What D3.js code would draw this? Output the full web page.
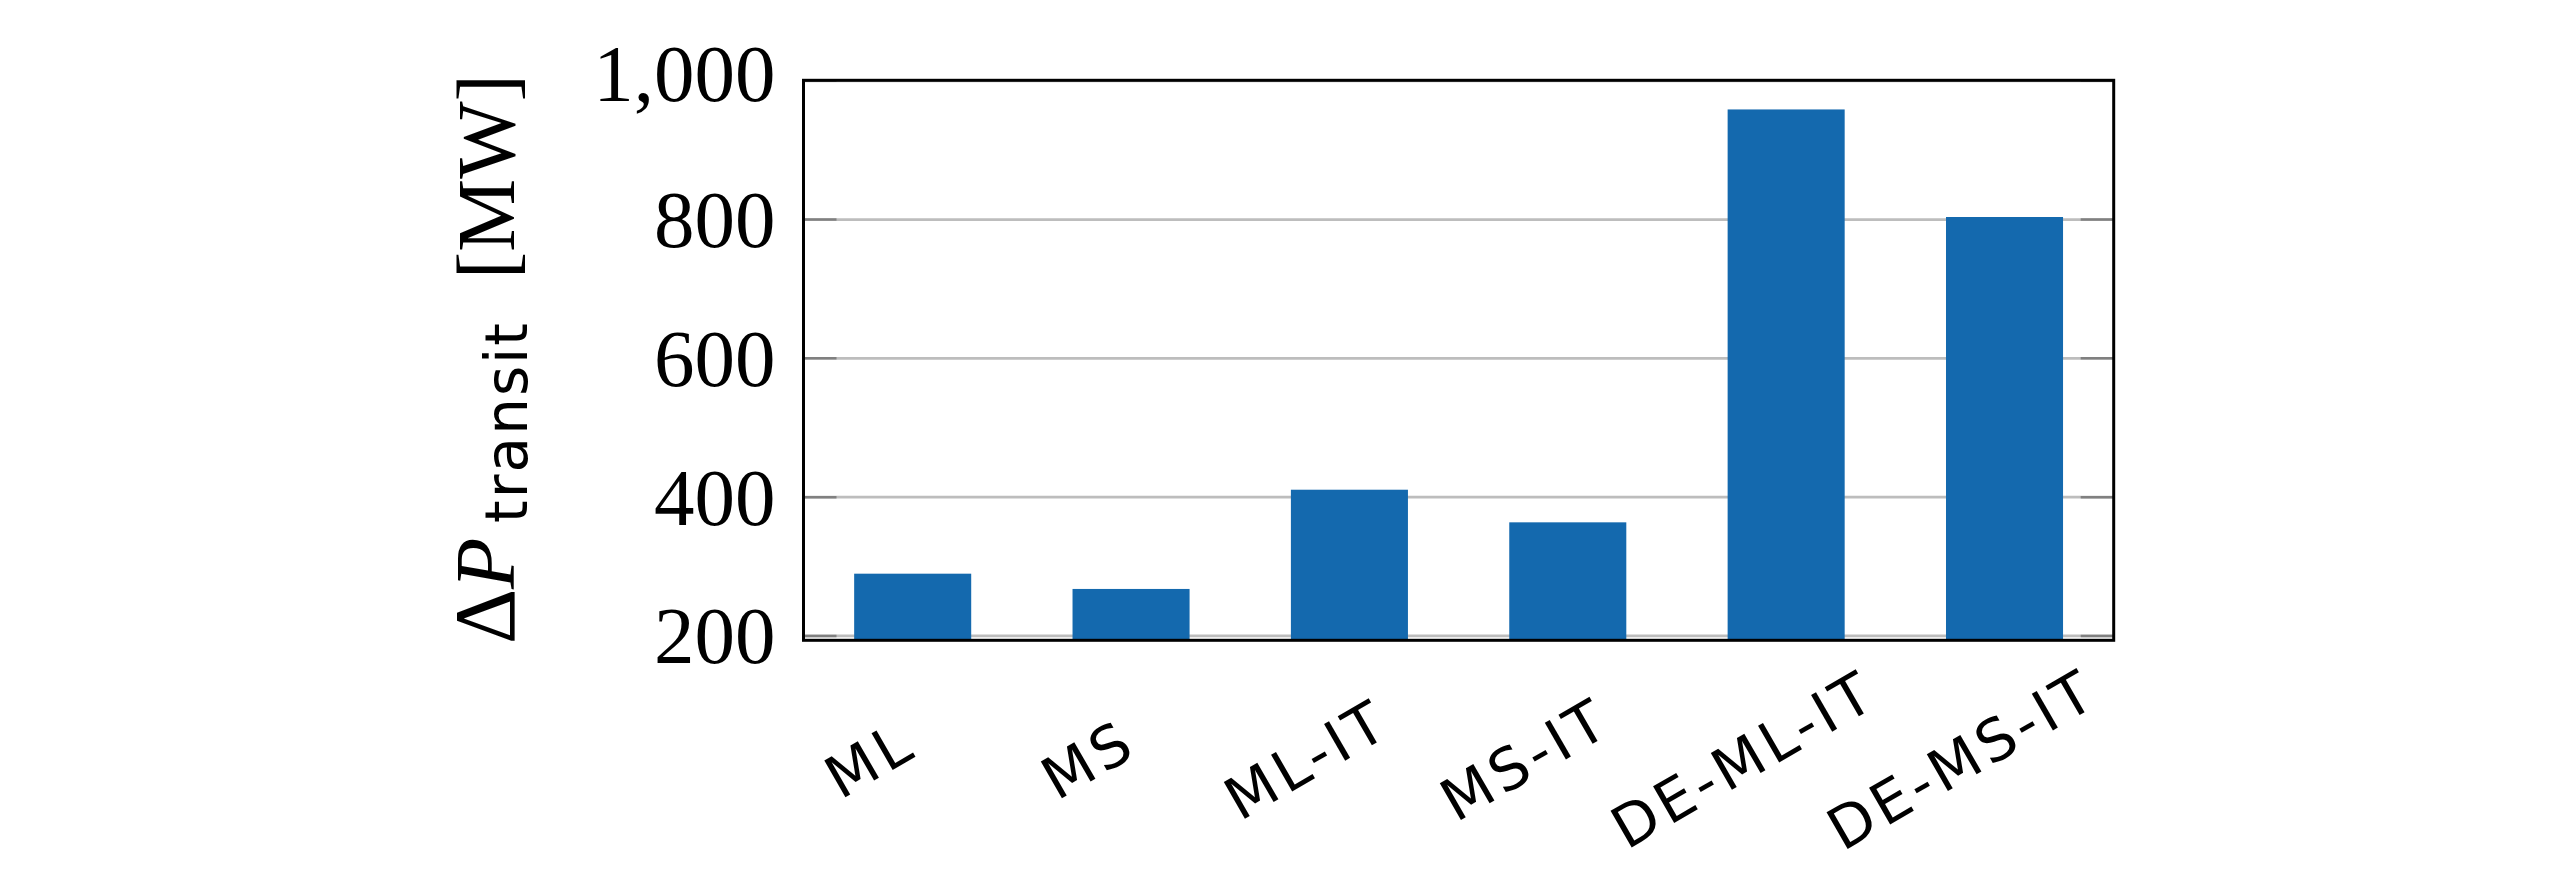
<!DOCTYPE html>
<html><head><meta charset="utf-8">
<script src="https://cdn.jsdelivr.net/npm/d3@7"></script>
<style>body{margin:0;background:#fff;} svg{display:block}</style>
</head><body><svg id="c" width="2572" height="892"></svg>
<script>
const categories = ["ML", "MS", "ML-IT", "MS-IT", "DE-ML-IT", "DE-MS-IT"];
const values = [289, 267, 410, 363, 958, 803];
const yTicks = [200, 400, 600, 800, 1000];
const yTickLabels = ["200", "400", "600", "800", "1,000"];
const yDomain = [193, 1000];

(function () {
const W = 2572, H = 892;
const svg = d3.select("#c");
svg.append("rect").attr("width", W).attr("height", H).attr("fill", "#fff");

const pL = 803.5, pR = 2113.7, pT = 80.3, pB = 640.3;
const x = d3.scaleBand().domain(categories).range([pL, pR]).paddingInner(0.464).paddingOuter(0.232);
const y = d3.scaleLinear().domain(yDomain).range([pB, pT]);

// grid
const grid = svg.append("g").attr("transform", `translate(${pL},0)`)
  .call(d3.axisLeft(y).tickValues(yTicks).tickSize(-(pR - pL)).tickFormat(""));
grid.select(".domain").remove();
grid.selectAll("line").attr("stroke", "#bdbdbd").attr("stroke-width", 2.8);

// bars
svg.append("g").selectAll("rect").data(values).join("rect")
  .attr("x", (d, i) => x(categories[i]))
  .attr("width", x.bandwidth())
  .attr("y", d => y(d))
  .attr("height", d => y(yDomain[0]) - y(d))
  .attr("fill", "#1469ae");

// inner tick marks
const tl = 33;
const lt = svg.append("g").attr("transform", `translate(${pL},0)`)
  .call(d3.axisRight(y).tickValues(yTicks).tickSize(tl).tickFormat(""));
lt.select(".domain").remove();
lt.selectAll("line").attr("stroke", "#808080").attr("stroke-width", 2.5);
const rt = svg.append("g").attr("transform", `translate(${pR},0)`)
  .call(d3.axisLeft(y).tickValues(yTicks).tickSize(tl).tickFormat(""));
rt.select(".domain").remove();
rt.selectAll("line").attr("stroke", "#808080").attr("stroke-width", 2.5);

// frame
svg.append("rect").attr("x", pL).attr("y", pT).attr("width", pR - pL).attr("height", pB - pT)
  .attr("fill", "none").attr("stroke", "#000").attr("stroke-width", 3);

// y tick labels
const yl = svg.append("g").attr("transform", `translate(${pL},0)`)
  .call(d3.axisLeft(y).tickValues(yTicks).tickSize(0).tickPadding(28).tickFormat((d, i) => yTickLabels[i]));
yl.select(".domain").remove();
yl.selectAll("text")
  .attr("font-family", "'Liberation Serif', 'Times New Roman', serif")
  .attr("font-size", 81).attr("fill", "#000")
  .attr("dy", d => d === 1000 ? "0.25em" : "0.34em");

// x tick labels
svg.append("g").selectAll("text").data(categories).join("text")
  .attr("transform", d => `translate(${x(d) + x.bandwidth() / 2 - 43},759) rotate(-30)`)
  .attr("text-anchor", "middle").attr("dy", "0.36em")
  .attr("font-family", "'DejaVu Sans', sans-serif").attr("font-size", 58)
  .attr("letter-spacing", 4.5).attr("fill", "#000")
  .text(d => d);

// y title
const tg = svg.append("g").attr("transform", "translate(514,0) rotate(-90)");
const serif = "'Liberation Serif', 'Times New Roman', serif";
tg.append("text").attr("x", -644).attr("y", 0).attr("font-family", serif).attr("font-size", 86).text("Δ");
tg.append("text").attr("x", -589).attr("y", 0).attr("font-family", serif).attr("font-style", "italic").attr("font-size", 84).text("P");
tg.append("text").attr("x", -523).attr("y", 13).attr("font-family", "'DejaVu Sans', sans-serif").attr("font-size", 58).attr("letter-spacing", 2).text("transit");
tg.append("text").attr("x", -279).attr("y", 0).attr("font-family", serif).attr("font-size", 82).text("[MW]");
})();
</script>
</body></html>
